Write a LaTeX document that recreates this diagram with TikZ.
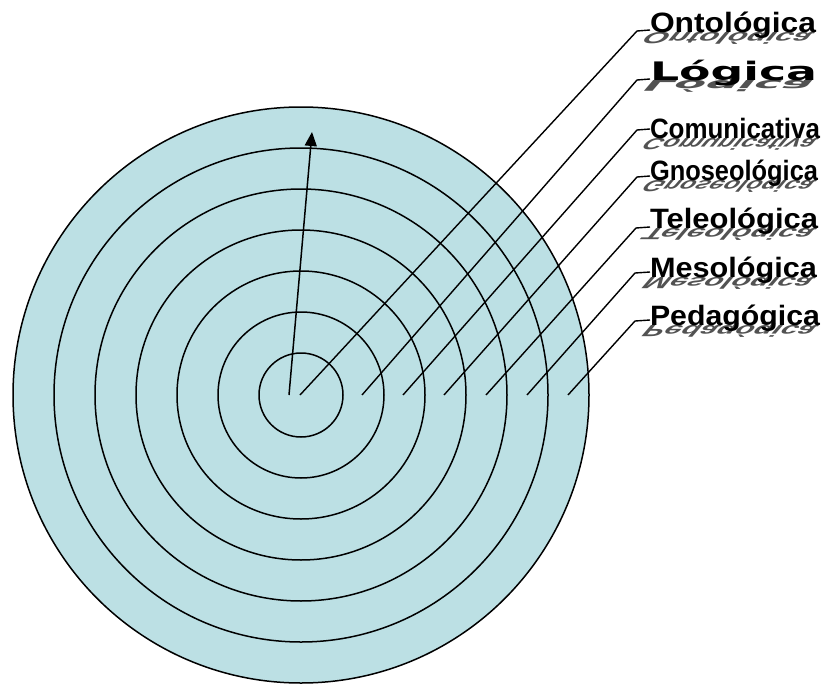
\documentclass[tikz,border=0pt]{standalone}
\usepackage{fontspec}
\usepackage{graphicx}
\usetikzlibrary{arrows.meta}
\newfontfamily\lsfont{Liberation Sans}
\newfontfamily\djfont{DejaVu Sans}
\definecolor{discfill}{RGB}{188,224,228}
\newcommand{\fA}{\lsfont\bfseries\fontsize{28}{32}\selectfont}
\newcommand{\fB}{\djfont\bfseries\fontsize{25.5}{30}\selectfont}
\tikzset{
  ring/.style={draw=black, line width=1.5pt},
  leader/.style={draw=black, line width=1.4pt},
  lbl/.style={anchor=base west, inner sep=0pt, outer sep=0pt, text=black},
  shad/.style={anchor=base west, inner sep=0pt, outer sep=0pt, text=black!68, transform shape}
}
\newcommand{\mklabel}[5]{%
  \begin{scope}[shift={(649,#2)}]
    \node[shad, font=#3, yscale=-0.58, xslant=-0.5] (#1s) at (0,0) {\resizebox{#4}{\height}{#5}};
  \end{scope}
  \node[lbl, font=#3] (#1) at (650,#2) {\resizebox{#4}{\height}{#5}};
}
\begin{document}
\begin{tikzpicture}[x=1pt,y=-1pt]
\useasboundingbox (0,0) rectangle (830,685);
% disc and rings
\coordinate (c) at (301,395);
\fill[discfill] (c) circle[radius=288pt];
\foreach \r in {42,83,124,165,206,247,288}
  \draw[ring] (c) circle[radius=\r pt];
% arrow
\coordinate (a0) at (289,395);
\coordinate (a1) at (312,132);
\draw[line width=1.5pt, -{Triangle[length=14pt,width=12pt]}] (a0) -- (a1);
% labels
\mklabel{l1}{33}{\fA}{166pt}{Ontológica}
\mklabel{l2}{81}{\fB}{167pt}{Lógica}
\mklabel{l3}{138}{\fA}{170pt}{Comunicativa}
\mklabel{l4}{180}{\fA}{168pt}{Gnoseológica}
\mklabel{l5}{228}{\fA}{168pt}{Teleológica}
\mklabel{l6}{277}{\fA}{167pt}{Mesológica}
\mklabel{l7}{325}{\fA}{170pt}{Pedagógica}
% leader lines
\coordinate (s1) at (300,395); \coordinate (e1) at (637,31);
\coordinate (s2) at (362,395); \coordinate (e2) at (637,80);
\coordinate (s3) at (403,395); \coordinate (e3) at (637,130);
\coordinate (s4) at (444,395); \coordinate (e4) at (637,177);
\coordinate (s5) at (486,395); \coordinate (e5) at (636,228);
\coordinate (s6) at (527,395); \coordinate (e6) at (635,273);
\coordinate (s7) at (568,395); \coordinate (e7) at (635,321);
\foreach \i in {1,...,7}
  \draw[leader] (s\i) -- (e\i) -- ([yshift=1pt]e\i -| l\i.west);
\end{tikzpicture}
\end{document}
